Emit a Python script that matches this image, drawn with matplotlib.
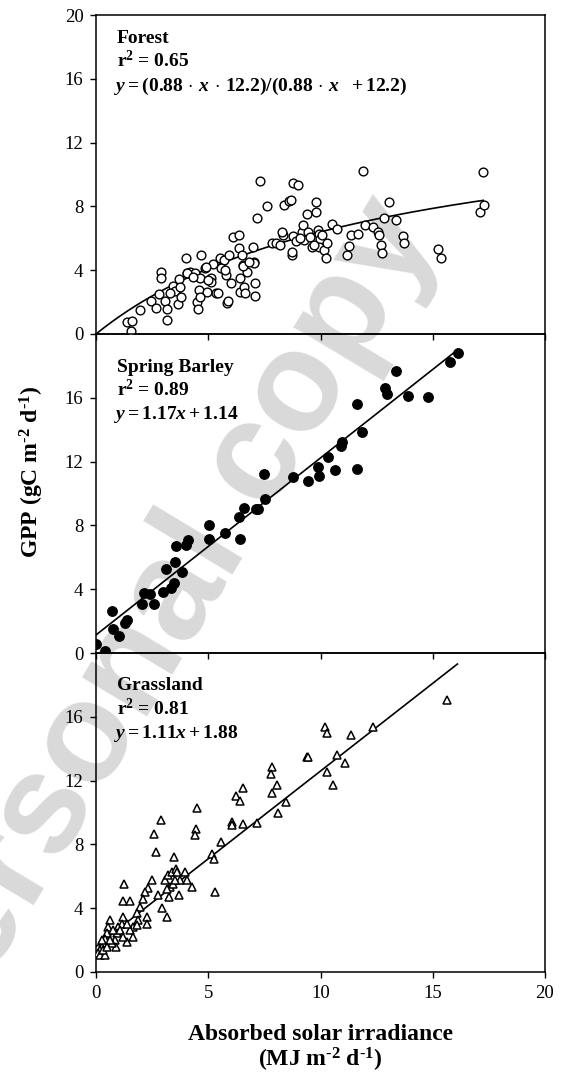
import matplotlib
matplotlib.use("Agg")
import matplotlib.pyplot as plt
import numpy as np

# fonts: Times-like serif, bold math everywhere
plt.rcParams['font.family'] = ['Liberation Serif', 'DejaVu Serif']
plt.rcParams['mathtext.fontset'] = 'custom'
plt.rcParams['mathtext.rm'] = 'Liberation Serif:bold'
plt.rcParams['mathtext.bf'] = 'Liberation Serif:bold'
plt.rcParams['mathtext.it'] = 'Liberation Serif:italic:bold'

# Forest (open circles)
forest_x = [1.40, 1.59, 1.56, 1.96, 2.45, 2.66, 2.81, 2.90, 2.90, 3.07, 3.18, 3.15, 3.44, 3.52,
            3.65, 3.71, 3.77, 4.02, 4.04, 4.19, 4.41, 4.48, 4.53, 4.60, 4.68, 4.63, 4.86, 4.93,
            5.11, 5.11, 5.23, 5.35, 5.45, 5.52, 5.72, 5.79, 5.82, 5.89, 5.94, 6.12, 6.35, 6.38,
            6.41, 6.41, 6.52, 6.56, 6.59, 6.64, 6.71, 7.01, 7.05, 7.08, 7.08, 7.19, 7.31, 7.63,
            7.82, 8.02, 8.20, 8.31, 8.30, 8.39, 8.61, 8.67, 8.72, 8.72, 8.76, 8.76, 9.01, 9.16,
            9.24, 9.38, 9.46, 9.26, 9.61, 9.78, 9.78, 9.90, 9.95, 9.98, 9.95, 10.16, 10.25, 10.30,
            10.53, 10.75, 11.17, 11.28, 11.36, 11.66, 11.88, 11.98, 12.32, 12.58, 12.59, 12.70,
            12.73, 12.84, 13.05, 13.36, 13.66, 13.72, 15.25, 15.35, 17.11, 17.30, 17.25,
            3.74, 4.07, 4.63, 4.90, 5.55, 5.75, 6.53, 7.04, 8.90, 9.10, 9.55, 9.70, 10.05, 3.30,
            4.30, 5.00, 6.00, 6.80]
forest_y = [0.75, 0.83, 0.17, 1.52, 2.04, 1.62, 2.49, 3.90, 3.49, 2.10, 1.56, 0.89, 3.03, 2.70,
            1.85, 3.43, 2.31, 4.74, 3.84, 3.90, 3.80, 1.99, 1.56, 2.74, 4.94, 3.49, 4.11, 2.66,
            3.53, 3.24, 4.38, 2.55, 2.60, 4.78, 4.61, 3.70, 1.93, 2.08, 4.94, 6.09, 6.23, 5.40,
            3.49, 2.66, 4.94, 4.32, 2.97, 2.55, 3.90, 5.46, 4.53, 3.18, 2.41, 7.29, 9.57, 8.04,
            5.71, 5.73, 5.57, 6.19, 6.40, 8.10, 8.31, 8.37, 4.94, 5.11, 6.15, 9.47, 9.37, 6.40,
            6.81, 7.54, 6.40, 5.88, 5.46, 8.27, 7.68, 6.50, 6.29, 5.98, 5.46, 5.25, 4.78, 5.73,
            6.92, 6.60, 4.98, 5.50, 6.23, 6.29, 10.20, 6.85, 6.71, 6.40, 6.19, 5.61,
            5.05, 7.29, 8.27, 7.16, 6.13, 5.73, 5.30, 4.74, 7.64, 8.06, 10.18,
            2.97, 3.80, 2.35, 4.20, 4.11, 4.00, 4.28, 4.47, 5.80, 6.00, 6.10, 5.60, 6.20, 2.60,
            3.55, 3.40, 3.20, 4.50]

# Spring Barley (filled circles)
barley_x = [0.00, 0.40, 0.70, 0.77, 1.02, 1.29, 1.37, 2.03, 2.14, 2.41, 2.58, 2.97, 3.12, 3.34,
            3.47, 3.52, 3.55, 3.84, 3.99, 4.08, 5.03, 5.05, 5.75, 6.38, 6.41, 6.59, 7.13, 7.23,
            7.48, 7.53, 8.79, 9.46, 9.90, 9.93, 10.32, 10.65, 10.90, 10.97, 11.61, 11.64, 11.83,
            12.87, 12.95, 13.36, 13.91, 14.80, 15.77, 16.11]
barley_y = [0.56, 0.15, 2.63, 1.50, 1.06, 1.85, 2.06, 3.10, 3.77, 3.73, 3.06, 3.83, 5.25, 4.10,
            4.42, 5.71, 6.73, 5.10, 6.75, 7.10, 8.04, 7.17, 7.54, 8.52, 7.13, 9.08, 9.02, 9.04,
            11.23, 9.67, 11.02, 10.77, 11.65, 11.10, 12.27, 11.48, 13.00, 13.20, 11.54, 15.60, 13.88,
            16.60, 16.23, 17.65, 16.13, 16.06, 18.27, 18.79]

# Grassland (open triangles)
grass_x = [15.62, 12.32, 11.34, 10.20, 10.30, 10.72, 11.09, 10.27, 10.54, 9.38, 9.46, 7.85, 7.80,
           8.05, 7.85, 8.46, 8.09, 6.22, 6.41, 6.56, 6.04, 6.07, 6.53, 7.16, 5.57, 5.15, 5.27,
           5.30, 4.48, 4.45, 4.42, 2.88, 2.60, 2.66, 3.49, 1.26, 1.22, 1.51, 2.92, 3.15, 2.48,
           2.33, 2.18, 2.11, 2.78, 3.07, 3.22, 3.37, 3.56, 3.62, 3.74, 3.96, 4.04, 4.26, 3.30,
           3.45, 3.71, 3.27, 3.15, 3.52, 1.96, 1.81, 1.89, 2.26, 2.26, 1.66, 1.51, 1.66, 1.37,
           1.22, 1.14, 0.99, 0.92, 0.85, 0.62, 0.55, 0.48, 0.40, 0.33, 0.25, 0.18, 0.10, 0.18,
           0.40, 0.89, 0.70, 1.37, 1.07, 0.77, 1.22, 0.62, 0.33, 0.25, 0.48, 1.81]
grass_y = [17.04, 15.33, 14.85, 15.38, 14.98, 13.60, 13.08, 12.52, 11.75, 13.50, 13.46, 12.83,
           12.42, 11.75, 11.23, 10.65, 9.96, 11.06, 10.75, 11.52, 9.40, 9.23, 9.29, 9.33, 8.15,
           7.38, 7.10, 5.02, 10.27, 8.94, 8.56, 9.50, 8.67, 7.54, 7.21, 5.50, 4.46, 4.44, 4.04,
           3.46, 5.75, 5.29, 5.02, 4.60, 4.81, 5.75, 6.06, 6.27, 6.48, 6.27, 5.75, 6.27, 5.75,
           5.33, 5.33, 5.54, 4.81, 4.71, 5.23, 5.75, 4.08, 3.67, 3.25, 3.46, 3.04, 2.83, 2.63,
           2.17, 1.90, 3.46, 3.04, 2.83, 2.42, 2.00, 3.25, 2.83, 2.42, 2.10, 1.79, 1.58, 1.38,
           1.17, 1.06, 1.06, 1.54, 1.79, 3.04, 2.63, 2.63, 2.21, 2.00, 1.38, 2.00, 1.58, 2.94]

# fitted lines as drawn in the figure
forest_slope, forest_pmax, forest_xmax = 1.14, 14.6, 17.25
barley_slope, barley_icpt, barley_xmax = 1.11, 1.13, 16.1
grass_slope, grass_icpt, grass_xmax = 1.10, 1.60, 16.1

names = ['Forest', 'Spring Barley', 'Grassland']
r2_labels = ['0.65', '0.89', '0.81']
equations = [r'$y = (0.88\,\cdot\,x\,\cdot\,12.2)/(0.88\,\cdot\,x\ \ + 12.2)$',
             r'$y = 1.17x + 1.14$',
             r'$y = 1.11x + 1.88$']

fig = plt.figure(figsize=(5.61, 10.75), dpi=100)
W, H = 561.0, 1075.0
left, right = 96, 545
edges = [15, 334, 653, 972]

# watermark, behind the panels
fig.text(158 / W, 1 - 628 / H, 'Personal copy', rotation=59, fontsize=102,
         family='Liberation Sans', fontweight='bold', color='#d9d9d9',
         ha='center', va='center', rotation_mode='anchor', zorder=-1)

axes = []
for i in range(3):
    ax = fig.add_axes([left / W, 1 - edges[i + 1] / H, (right - left) / W,
                       (edges[i + 1] - edges[i]) / H])
    ax.set_facecolor('none')
    axes.append(ax)

ax1, ax2, ax3 = axes

ax1.plot(forest_x, forest_y, 'o', ms=6.3, mfc='white', mec='black', mew=1.0, zorder=3)
xf = np.linspace(0, forest_xmax, 200)
ax1.plot(xf, forest_slope * xf * forest_pmax / (forest_slope * xf + forest_pmax),
         color='black', lw=1.2, zorder=2)

ax2.plot(barley_x, barley_y, 'o', ms=6.8, mfc='black', mec='black', zorder=3)
ax2.plot([0, barley_xmax], [barley_icpt, barley_icpt + barley_slope * barley_xmax],
         color='black', lw=1.2, zorder=2)

ax3.plot(grass_x, grass_y, '^', ms=6.0, mfc='white', mec='black', mew=1.1, zorder=3)
ax3.plot([0, grass_xmax], [grass_icpt, grass_icpt + grass_slope * grass_xmax],
         color='black', lw=1.2, zorder=2)

top_offsets = [[0.913, 0.838, 0.763], [0.880, 0.805, 0.733], [0.884, 0.806, 0.733]]
for i, ax in enumerate(axes):
    ax.set_xlim(0, 20)
    ax.set_ylim(0, 20)
    ax.set_xticks([0, 5, 10, 15, 20])
    if i == 0:
        ax.set_yticks([0, 4, 8, 12, 16, 20])
    else:
        ax.set_yticks([0, 4, 8, 12, 16])
    ax.tick_params(direction='out', length=4, width=1, labelsize=13.5, pad=5,
                   right=False, top=False)
    if i < 2:
        ax.tick_params(labelbottom=False)
    for s in ax.spines.values():
        s.set_linewidth(1.1)
    ys = top_offsets[i]
    ax.text(0.046, ys[0], names[i], transform=ax.transAxes, fontsize=14,
            fontweight='bold', va='baseline')
    ax.text(0.046, ys[1], r'r$^{2}$ = ' + r2_labels[i], transform=ax.transAxes,
            fontsize=14, fontweight='bold', va='baseline')
    ax.text(0.040, ys[2], equations[i], transform=ax.transAxes, fontsize=14,
            va='baseline')

ax3.set_xlabel('Absorbed solar irradiance\n' + r'(MJ m$^{\text{-}2}$ d$^{\text{-}1}$)',
               fontsize=17, fontweight='bold', labelpad=16, linespacing=1.05)
fig.text(32 / W, 1 - 472 / H, r'GPP (gC m$^{\text{-}2}$ d$^{\text{-}1}$)', rotation=90,
         fontsize=17, fontweight='bold', ha='center', va='center')

fig.savefig('out.png', dpi=100)
